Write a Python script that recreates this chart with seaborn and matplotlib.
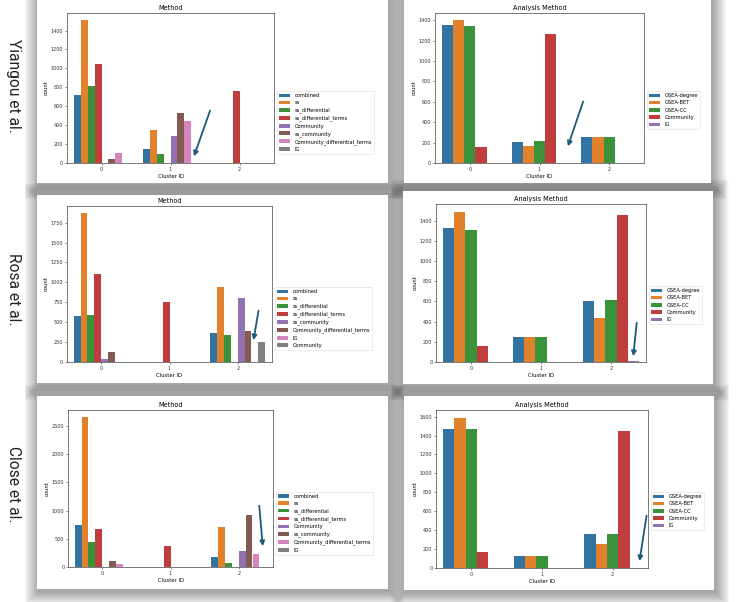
import matplotlib
matplotlib.use("Agg")
import matplotlib.pyplot as plt
from matplotlib.patches import Rectangle, FancyArrowPatch
from matplotlib.ticker import MultipleLocator
import seaborn as sns
import pandas as pd

# ---------------- data ----------------
clusters = ["0", "1", "2"]

yiangou_methods = ["combined", "ss", "ss_differential", "ss_differential_terms",
                   "Community", "ss_community", "Community_differential_terms", "IG"]
yiangou_method_c0 = [715, 1510, 815, 1050, 0, 45, 110, 0]
yiangou_method_c1 = [145, 350, 95, 0, 285, 525, 445, 0]
yiangou_method_c2 = [0, 0, 0, 765, 0, 0, 0, 0]

rosa_methods = ["combined", "ss", "ss_differential", "ss_differential_terms",
                "ss_community", "Community_differential_terms", "IG", "Community"]
rosa_method_c0 = [575, 1865, 585, 1100, 40, 125, 0, 0]
rosa_method_c1 = [0, 0, 0, 755, 0, 0, 0, 0]
rosa_method_c2 = [360, 945, 340, 0, 805, 390, 0, 255]

close_methods = ["combined", "ss", "ss_differential", "ss_differential_terms",
                 "Community", "ss_community", "Community_differential_terms", "IG"]
close_method_c0 = [750, 2650, 450, 665, 0, 100, 60, 0]
close_method_c1 = [0, 0, 0, 380, 0, 0, 0, 0]
close_method_c2 = [180, 710, 70, 0, 285, 920, 235, 0]

analysis_methods = ["GSEA-degree", "GSEA-BET", "GSEA-CC", "Community", "IG"]
yiangou_analysis_c0 = [1350, 1400, 1345, 160, 0]
yiangou_analysis_c1 = [210, 165, 215, 1265, 3]
yiangou_analysis_c2 = [255, 255, 255, 0, 0]

rosa_analysis_c0 = [1325, 1490, 1310, 160, 0]
rosa_analysis_c1 = [250, 250, 250, 0, 0]
rosa_analysis_c2 = [600, 435, 615, 1460, 5]

close_analysis_c0 = [1470, 1590, 1470, 165, 0]
close_analysis_c1 = [125, 125, 125, 0, 0]
close_analysis_c2 = [360, 250, 360, 1445, 3]

row_labels = ["Yiangou et al.", "Rosa et al.", "Close et al."]

# ---------------- layout helpers ----------------
W, H = 742, 602
fig = plt.figure(figsize=(W / 100, H / 100), dpi=100, facecolor="white")


def frect(x0, y0, x1, y1):
    return [x0 / W, 1 - y1 / H, (x1 - x0) / W, (y1 - y0) / H]


cards = [(37, -8, 388, 183), (404, -8, 711, 183),
         (37, 195, 388, 383), (403, 191, 713, 384),
         (37, 396, 388, 589), (404, 396, 714, 590)]

# soft shadows
for (x0, y0, x1, y1) in cards:
    for i in range(16):
        e = 0.5 + i * 0.9
        r = Rectangle(((x0 - e + 1.5) / W, 1 - (y1 + e + 2.5) / H),
                      (x1 - x0 + 2 * e) / W, (y1 - y0 + 2 * e) / H,
                      transform=fig.transFigure, facecolor="black",
                      edgecolor="none", alpha=0.022, zorder=-3)
        fig.add_artist(r)
for (x0, y0, x1, y1) in cards:
    fig.add_artist(Rectangle((x0 / W, 1 - y1 / H), (x1 - x0) / W, (y1 - y0) / H,
                             transform=fig.transFigure, facecolor="white",
                             edgecolor="none", zorder=-2))

tab10 = sns.color_palette("tab10")


def panel(rect, hue_order, rows, title, ystep):
    recs = []
    for c, vals in zip(clusters, rows):
        for m, v in zip(hue_order, vals):
            recs.append({"Cluster ID": c, "Method": m, "count": v})
    df = pd.DataFrame(recs)
    ax = fig.add_axes(frect(*rect))
    sns.barplot(data=df, x="Cluster ID", y="count", hue="Method",
                order=clusters, hue_order=hue_order,
                palette=tab10[:len(hue_order)], ax=ax, errorbar=None)
    ax.set_title(title, fontsize=4.7, pad=2)
    ax.set_xlabel("Cluster ID", fontsize=3.8, labelpad=1.5)
    ax.set_ylabel("count", fontsize=3.8, labelpad=1.5)
    ax.yaxis.set_major_locator(MultipleLocator(ystep))
    ax.tick_params(labelsize=3.5, length=1.5, width=0.4, pad=1.2, colors="#333333")
    for s in ax.spines.values():
        s.set_linewidth(0.5)
        s.set_color("#444444")
    h, l = ax.get_legend_handles_labels()
    ax.legend(h, l, loc="upper left", bbox_to_anchor=(1.0, 0.5), fontsize=3.7,
              frameon=True, framealpha=1, edgecolor="#dddddd", borderaxespad=0.6,
              handlelength=2.2, handleheight=0.7, labelspacing=0.45,
              borderpad=0.4).get_frame().set_linewidth(0.4)
    return ax


panel((67, 13, 274, 163), yiangou_methods,
      [yiangou_method_c0, yiangou_method_c1, yiangou_method_c2], "Method", 200)
panel((435, 13, 644, 163), analysis_methods,
      [yiangou_analysis_c0, yiangou_analysis_c1, yiangou_analysis_c2], "Analysis Method", 200)
panel((67, 206, 272, 362), rosa_methods,
      [rosa_method_c0, rosa_method_c1, rosa_method_c2], "Method", 250)
panel((436, 204, 646, 362), analysis_methods,
      [rosa_analysis_c0, rosa_analysis_c1, rosa_analysis_c2], "Analysis Method", 200)
panel((68, 410, 273, 567), close_methods,
      [close_method_c0, close_method_c1, close_method_c2], "Method", 500)
panel((436, 410, 648, 568), analysis_methods,
      [close_analysis_c0, close_analysis_c1, close_analysis_c2], "Analysis Method", 200)

# row labels
for lab, yc in zip(row_labels, [86, 289, 484]):
    fig.text(13 / W, 1 - yc / H, lab, rotation=270, ha="center", va="center",
             fontsize=11.2, family=["Roboto", "DejaVu Sans"], color="#222222")

# annotation arrows
arrows = [((211, 108), (193, 159)), ((584, 99), (567, 149)),
          ((259, 308), (253, 343)), ((637, 320), (633, 359)),
          ((259, 503), (263, 549)), ((647, 513), (639, 564))]
for (xa, ya), (xb, yb) in arrows:
    fig.add_artist(FancyArrowPatch((xa / W, 1 - ya / H), (xb / W, 1 - yb / H),
                                   transform=fig.transFigure, arrowstyle="-|>",
                                   mutation_scale=7, lw=1.3, color="#1d5a78",
                                   zorder=10))

fig.savefig("out.png", dpi=100, facecolor="white")
